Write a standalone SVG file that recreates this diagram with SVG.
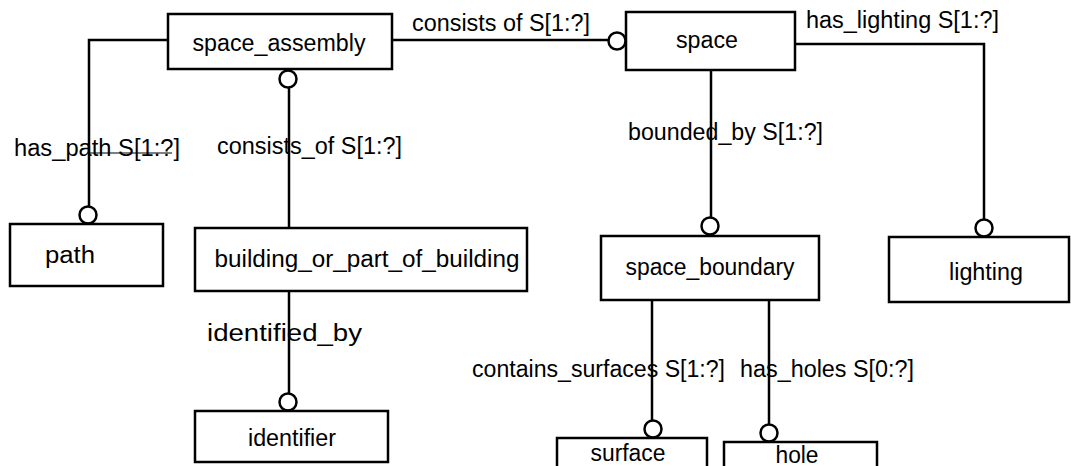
<svg xmlns="http://www.w3.org/2000/svg" width="1071" height="466" viewBox="0 0 1071 466">
<style>
.box{fill:#fff;stroke:#000;stroke-width:2.5}
.ln{fill:none;stroke:#000;stroke-width:2.5}
.o{fill:#fff;stroke:#000;stroke-width:2.5}
.lbl{font-family:"Liberation Sans",Arial,sans-serif;font-size:23px;fill:#000}
.nt{font-family:"Liberation Sans",Arial,sans-serif;font-size:23px;fill:#000;text-anchor:middle}
</style>
<rect width="1071" height="466" fill="#fff"/>
<g id="connectors">
  <line class="ln" x1="391" y1="40" x2="609" y2="40"/>
  <circle class="o" cx="617" cy="41" r="8.5"/>
  <text class="lbl" x="412" y="31" textLength="178" lengthAdjust="spacingAndGlyphs">consists of S[1:?]</text>
  <polyline class="ln" points="168,40 89,40 89,206"/>
  <circle class="o" cx="88" cy="215" r="8.5"/>
  <text class="lbl" x="14" y="156" textLength="166" lengthAdjust="spacingAndGlyphs">has_path S[1:?]</text>
  <line x1="89" y1="153" x2="172" y2="153" stroke="#000" stroke-width="1.2"/>
  <circle class="o" cx="288" cy="79" r="8.5"/>
  <line class="ln" x1="289" y1="88" x2="289" y2="228"/>
  <text class="lbl" x="217" y="154" textLength="185" lengthAdjust="spacingAndGlyphs">consists_of S[1:?]</text>
  <line class="ln" x1="289" y1="291" x2="289" y2="394"/>
  <circle class="o" cx="288" cy="402" r="8.5"/>
  <text class="lbl" x="207" y="341" textLength="155" lengthAdjust="spacingAndGlyphs">identified_by</text>
  <polyline class="ln" points="795,44 984,44 984,219"/>
  <circle class="o" cx="984" cy="228" r="8.5"/>
  <text class="lbl" x="806" y="28" textLength="193" lengthAdjust="spacingAndGlyphs">has_lighting S[1:?]</text>
  <line class="ln" x1="711" y1="70" x2="711" y2="217"/>
  <circle class="o" cx="710" cy="226" r="8.5"/>
  <text class="lbl" x="628" y="140" textLength="195" lengthAdjust="spacingAndGlyphs">bounded_by S[1:?]</text>
  <line class="ln" x1="652" y1="300" x2="652" y2="420"/>
  <circle class="o" cx="653" cy="429" r="8.5"/>
  <text class="lbl" x="472" y="377" textLength="253" lengthAdjust="spacingAndGlyphs">contains_surfaces S[1:?]</text>
  <line class="ln" x1="769" y1="300" x2="769" y2="424"/>
  <circle class="o" cx="769" cy="433" r="8.5"/>
  <text class="lbl" x="740" y="377" textLength="174" lengthAdjust="spacingAndGlyphs">has_holes S[0:?]</text>
</g>
<g id="space_assembly">
  <rect class="box" x="168" y="14" width="224" height="55"/>
  <text class="nt" x="279" y="51" textLength="173" lengthAdjust="spacingAndGlyphs">space_assembly</text>
</g>
<g id="space">
  <rect class="box" x="626" y="12" width="169" height="58"/>
  <text class="nt" x="707" y="48" textLength="62" lengthAdjust="spacingAndGlyphs">space</text>
</g>
<g id="path">
  <rect class="box" x="10" y="224" width="153" height="62"/>
  <text class="nt" x="70" y="263" textLength="50" lengthAdjust="spacingAndGlyphs">path</text>
</g>
<g id="building_or_part_of_building">
  <rect class="box" x="195" y="228" width="332" height="63"/>
  <text class="nt" x="367" y="267" textLength="305" lengthAdjust="spacingAndGlyphs">building_or_part_of_building</text>
</g>
<g id="identifier">
  <rect class="box" x="195" y="411" width="193" height="51"/>
  <text class="nt" x="292" y="446" textLength="88" lengthAdjust="spacingAndGlyphs">identifier</text>
</g>
<g id="space_boundary">
  <rect class="box" x="601" y="236" width="218" height="64"/>
  <text class="nt" x="710" y="275" textLength="169" lengthAdjust="spacingAndGlyphs">space_boundary</text>
</g>
<g id="lighting">
  <rect class="box" x="889" y="237" width="180" height="65"/>
  <text class="nt" x="986" y="280" textLength="74" lengthAdjust="spacingAndGlyphs">lighting</text>
</g>
<g id="surface">
  <rect class="box" x="557" y="438" width="150" height="40"/>
  <text class="nt" x="628" y="461" textLength="75" lengthAdjust="spacingAndGlyphs">surface</text>
</g>
<g id="hole">
  <rect class="box" x="724" y="442" width="153" height="40"/>
  <text class="nt" x="797" y="463" textLength="43" lengthAdjust="spacingAndGlyphs">hole</text>
</g>
</svg>
